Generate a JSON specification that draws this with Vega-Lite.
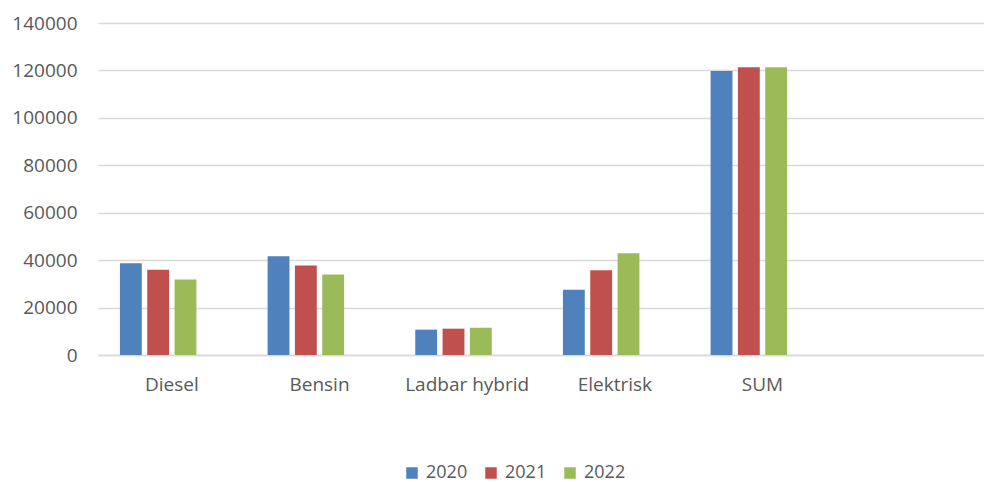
{
  "$schema": "https://vega.github.io/schema/vega-lite/v6.json",
  "autosize": {"type": "none"},
  "padding": {"left": 98, "top": 23, "right": 0, "bottom": 127},
  "width": 886,
  "height": 332,
  "background": "white",
  "config": {
    "font": "Open Sans",
    "view": {"stroke": null}
  },
  "data": {
    "values": [
      {"Type": "Diesel", "År": "2020", "Antall": 38700},
      {"Type": "Diesel", "År": "2021", "Antall": 35900},
      {"Type": "Diesel", "År": "2022", "Antall": 31800},
      {"Type": "Bensin", "År": "2020", "Antall": 41600},
      {"Type": "Bensin", "År": "2021", "Antall": 37700},
      {"Type": "Bensin", "År": "2022", "Antall": 33900},
      {"Type": "Ladbar hybrid", "År": "2020", "Antall": 10700},
      {"Type": "Ladbar hybrid", "År": "2021", "Antall": 11100},
      {"Type": "Ladbar hybrid", "År": "2022", "Antall": 11500},
      {"Type": "Elektrisk", "År": "2020", "Antall": 27500},
      {"Type": "Elektrisk", "År": "2021", "Antall": 35700},
      {"Type": "Elektrisk", "År": "2022", "Antall": 42900},
      {"Type": "SUM", "År": "2020", "Antall": 119800},
      {"Type": "SUM", "År": "2021", "Antall": 121300},
      {"Type": "SUM", "År": "2022", "Antall": 121300}
    ]
  },
  "mark": {"type": "bar"},
  "encoding": {
    "x": {
      "field": "Type",
      "type": "nominal",
      "sort": null,
      "scale": {"domain": ["Diesel", "Bensin", "Ladbar hybrid", "Elektrisk", "SUM", " "], "paddingInner": 0.26, "paddingOuter": 0.13},
      "axis": {
        "title": null,
        "labelAngle": 0,
        "labelFontSize": 19,
        "labelColor": "#595959",
        "labelPadding": 20,
        "ticks": false,
        "domainColor": "#d9d9d9",
        "domainWidth": 1.5,
        "grid": false
      }
    },
    "xOffset": {
      "field": "År",
      "type": "nominal",
      "scale": {"domain": ["2020", "2021", "2022", "_"], "paddingInner": 0.2, "paddingOuter": 0.1}
    },
    "y": {
      "field": "Antall",
      "type": "quantitative",
      "scale": {"domain": [0, 140000], "nice": false},
      "axis": {
        "title": null,
        "values": [0, 20000, 40000, 60000, 80000, 100000, 120000, 140000],
        "format": "d",
        "labelFontSize": 19,
        "labelColor": "#595959",
        "labelPadding": 21,
        "ticks": false,
        "domain": false,
        "gridColor": "#d9d9d9",
        "gridWidth": 1.5
      }
    },
    "color": {
      "field": "År",
      "type": "nominal",
      "scale": {"domain": ["2020", "2021", "2022"], "range": ["#4F81BD", "#C0504D", "#9BBB59"]},
      "legend": {
        "title": null,
        "orient": "none",
        "direction": "horizontal",
        "legendX": 305,
        "legendY": 441,
        "symbolType": "square",
        "symbolSize": 132,
        "symbolStrokeWidth": 0,
        "labelFontSize": 18,
        "labelColor": "#595959",
        "labelOffset": 5,
        "columnPadding": 14
      }
    }
  }
}
